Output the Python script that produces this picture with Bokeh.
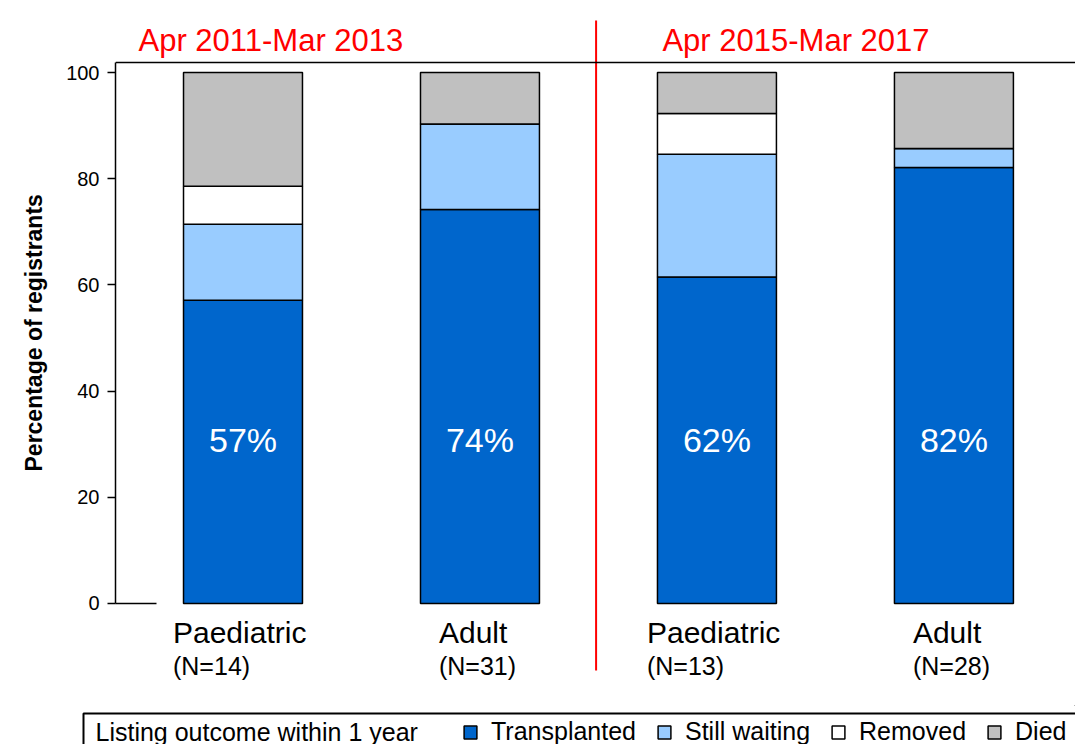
from bokeh.plotting import figure
from bokeh.models import (ColumnDataSource, Span, Legend, LegendItem, FixedTicker, Range1d,
                          BoxAnnotation, Title)
from bokeh.core.properties import value
from bokeh.embed import file_html
from bokeh.resources import INLINE

# ---- data ----
periods = ["Apr 2011-Mar 2013", "Apr 2015-Mar 2017"]
groups = ["Paediatric", "Adult", "Paediatric", "Adult"]
n_labels = ["(N=14)", "(N=31)", "(N=13)", "(N=28)"]
outcomes = ["Transplanted", "Still waiting", "Removed", "Died"]
transplanted = [57.1, 74.2, 61.5, 82.1]
still_waiting = [14.3, 16.1, 23.1, 3.6]
removed = [7.2, 0.0, 7.7, 0.0]
died = [21.4, 9.7, 7.7, 14.3]
colors = ["#0066CC", "#99CCFF", "#FFFFFF", "#C0C0C0"]
y_ticks = [0, 20, 40, 60, 80, 100]
y_label = "Percentage of registrants"
legend_title = "Listing outcome within 1 year"

FONT = "Liberation Sans"
xs = list(range(1, len(groups) + 1))
name_offset_px = {"Paediatric": -70, "Adult": -41}

src = ColumnDataSource(dict(
    x=xs, t=transplanted, w=still_waiting, r=removed, d=died,
    pct=[f"{round(v)}%" for v in transplanted],
    pct_y=[30.7] * len(xs),
    name=groups, nlab=n_labels,
    name_y=[-5.46] * len(xs), n_y=[-11.7] * len(xs),
    off=[name_offset_px[g] for g in groups],
))

# ---------------- main chart ----------------
p = figure(width=1075, height=705,
           x_range=Range1d(0.462, 4.513), y_range=Range1d(-19.21, 113.56),
           output_backend="svg", toolbar_location=None, x_axis_location=None,
           min_border_left=115, min_border_right=0, min_border_top=0, min_border_bottom=0)
p.outline_line_color = None
p.xgrid.visible = False
p.ygrid.visible = False
p.background_fill_color = "white"

ya = p.yaxis[0]
ya.ticker = FixedTicker(ticks=y_ticks)
ya.bounds = (0, 101.9)
ya.axis_line_width = 1.5
ya.axis_line_color = "black"
ya.major_tick_line_width = 1.5
ya.major_tick_out = 8
ya.major_tick_in = 0
ya.minor_tick_line_color = None
ya.major_label_text_font = FONT
ya.major_label_text_font_size = "20px"
ya.major_label_text_color = "black"
ya.major_label_standoff = 8

# y-axis title, centred on the 0-100 axis rather than on the whole frame
p.add_layout(Title(text=y_label, align="left", offset=234, standoff=34,
                   text_font=FONT, text_font_size="23px", text_font_style="bold",
                   text_color="black"), "left")

# top border of the plot area
p.add_layout(Span(location=101.9, dimension="width", line_color="black", line_width=1.5))

renderers = p.vbar_stack(["t", "w", "r", "d"], x="x", width=0.502, source=src,
                         fill_color=colors, line_color="black", line_width=1.5)

p.text(x="x", y="pct_y", text="pct", source=src, text_color="white",
       text_font=value(FONT), text_font_size="34px", text_align="center", text_baseline="middle")
p.text(x="x", y="name_y", text="name", source=src, x_offset="off", text_color="black",
       text_font=value(FONT), text_font_size="30px", text_align="left", text_baseline="middle")
p.text(x="x", y="n_y", text="nlab", source=src, x_offset="off", text_color="black",
       text_font=value(FONT), text_font_size="25px", text_align="left", text_baseline="middle")

p.text(x=[0.559, 2.770], y=[106.0, 106.0], text=periods, text_color="red",
       text_font=value(FONT), text_font_size="31px", text_align="left", text_baseline="middle")

# period divider and short baseline stub
p.segment(x0=[2.49], y0=[-12.6], x1=[2.49], y1=[109.8], line_color="red", line_width=2)
p.segment(x0=[0.453], y0=[0], x1=[0.635], y1=[0], line_color="black", line_width=1.5)

# ---------------- legend strip ----------------
p2 = figure(width=1075, height=39, x_range=Range1d(0, 1075), y_range=Range1d(0, 39),
            output_backend="svg", toolbar_location=None,
            x_axis_location=None, y_axis_location=None, min_border=0)
p2.outline_line_color = None
p2.xgrid.visible = False
p2.ygrid.visible = False

p2.add_layout(BoxAnnotation(left=83, right=1110, bottom=-20, top=31,
                            fill_color=None, line_color="black", line_alpha=1.0, line_width=2))
p2.text(x=[95], y=[13], text=[legend_title], text_color="black",
        text_font=value(FONT), text_font_size="25px", text_align="left", text_baseline="middle")

# key swatches (placed far outside the view; only their legend glyphs show)
key_renderers = [p2.vbar(x=[5000], top=[5001], bottom=[5000], width=1,
                         fill_color=c, line_color="black", line_width=1.5)
                 for c in colors]
legend = Legend(items=[LegendItem(label=o, renderers=[r]) for o, r in zip(outcomes, key_renderers)],
                orientation="horizontal", location=(462, -2),
                label_text_font=FONT, label_text_font_size="25px", label_text_color="black",
                glyph_width=16, glyph_height=16, label_standoff=13, spacing=20,
                padding=0, margin=0, border_line_color=None, background_fill_alpha=0)
p2.add_layout(legend, "center")

open("out.html", "w").write(file_html([p, p2], INLINE))
